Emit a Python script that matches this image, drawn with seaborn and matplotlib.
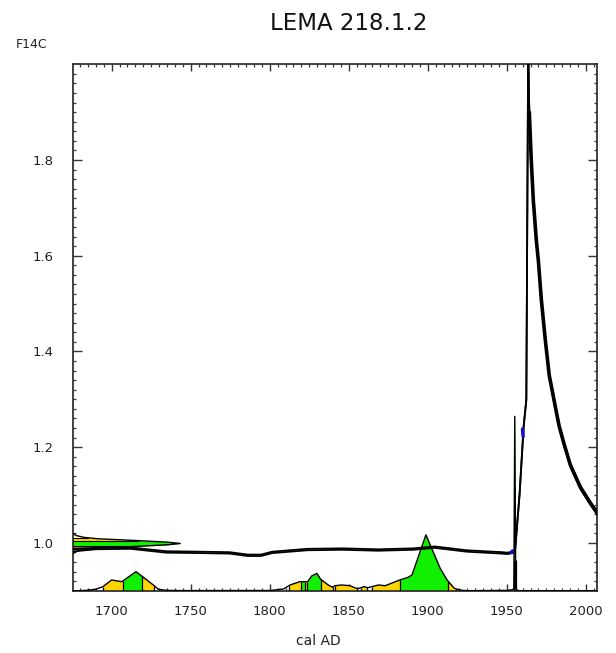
import numpy as np
import pandas as pd
import matplotlib
matplotlib.use("Agg")
import matplotlib.pyplot as plt
import seaborn as sns

# ---------------- data ----------------
title = "LEMA 218.1.2"
x_label = "cal AD"
y_label = "F14C"

# calibration curve (year AD, F14C, 1-sigma)
curve_year = [1675.6, 1689.7, 1712.0, 1734.4, 1756.8, 1774.7, 1786.0, 1794.6, 1801.5,
              1823.7, 1846.0, 1868.6, 1891.0, 1904.4, 1924.6, 1947.0, 1950.2, 1953.5,
              1955.2, 1958.0, 1960.6, 1962.3, 1963.5, 1963.9, 1964.2, 1965.4, 1966.7,
              1968.6, 1969.9, 1971.8, 1974.3, 1976.8, 1980.6, 1983.0, 1985.7, 1990.1,
              1996.5, 2002.8, 2008.5]
curve_f14c = [0.985, 0.988, 0.989, 0.981, 0.980, 0.979, 0.974, 0.974, 0.980,
              0.986, 0.987, 0.985, 0.987, 0.991, 0.983, 0.979, 0.978, 0.980,
              0.985, 1.100, 1.243, 1.299, 2.050, 1.950, 1.900, 1.801, 1.717,
              1.633, 1.590, 1.508, 1.424, 1.350, 1.285, 1.245, 1.212, 1.163,
              1.116, 1.083, 1.056]
curve_sigma = [0.003, 0.0015, 0.0015, 0.0015, 0.0015, 0.0015, 0.0015, 0.0015, 0.0015,
               0.0015, 0.0015, 0.0015, 0.0015, 0.0015, 0.0015, 0.0015, 0.0015, 0.0015,
               0.0015, 0.0015, 0.0015, 0.0015, 0.0015, 0.0015, 0.004, 0.004, 0.004,
               0.004, 0.004, 0.004, 0.004, 0.004, 0.003, 0.003, 0.003, 0.003,
               0.003, 0.003, 0.003]

# measured value distribution on the F14C axis (F14C, extent in years)
meas_f14c = [0.978, 0.982, 0.986, 0.989, 0.9927, 0.996, 0.9987, 1.0014, 1.0047,
             1.0085, 1.0115, 1.0155, 1.019]
meas_extent = [0.5, 2.0, 7.0, 16.0, 41.0, 60.0, 68.0, 60.0, 41.0, 16.0, 7.0, 2.0, 0.5]
meas_1sigma = (0.9927, 1.0047)
meas_2sigma = (0.9867, 1.0107)

# calibrated probability (year AD, relative probability)
prob_year = [1676, 1680, 1685, 1690, 1694.5, 1700, 1706.5, 1715.4, 1719, 1726.4, 1729.6,
             1735, 1745, 1800, 1808.7, 1812.9, 1819, 1824, 1826.6, 1829.8, 1832.3, 1837,
             1839.8, 1841.3, 1845.5, 1850.8, 1854.6, 1857, 1859.5, 1862, 1864.6, 1868.8,
             1873, 1877, 1882.3, 1887.6, 1890, 1898.8, 1907.8, 1912.2, 1916.7, 1921,
             1925, 1950, 1953.5, 1954.4, 1955.0, 1955.6, 1957, 2007]
prob_val = [0.0, 0.0, 0.05, 0.15, 0.4, 1.07, 0.9, 1.9, 1.47, 0.57, 0.14,
            0.03, 0.01, 0.02, 0.17, 0.57, 0.9, 0.9, 1.47, 1.73, 1.13, 0.57,
            0.34, 0.5, 0.57, 0.5, 0.24, 0.25, 0.4, 0.3, 0.4, 0.57,
            0.5, 0.74, 1.07, 1.34, 1.57, 5.57, 2.24, 1.07, 0.24, 0.05,
            0.0, 0.03, 0.1, 0.2, 17.4, 0.2, 0.0, 0.0]
ranges_1sigma = [(1707.0, 1719.0), (1819.7, 1822.4), (1823.9, 1832.3),
                 (1882.3, 1912.7), (1954.5, 1955.5)]
ranges_2sigma = [(1694.5, 1727.0), (1812.0, 1839.8), (1841.3, 1855.0),
                 (1858.0, 1861.5), (1864.6, 1918.0)]

# small blue marks
blue_year = [(1952.8, 1953.6), (1959.9, 1960.3)]
blue_f14c = [(0.980, 0.983), (1.238, 1.222)]

x_ticks = [1700, 1750, 1800, 1850, 1900, 1950, 2000]
y_ticks = [1.0, 1.2, 1.4, 1.6, 1.8]

# ---------------- drawing ----------------
sns.set_theme(style="ticks")
plt.rcParams["font.family"] = ["DejaVu Sans"]

W, H = 616, 653
fig = plt.figure(figsize=(W / 100, H / 100), dpi=100)
ax = fig.add_axes([72.7 / W, 1 - 590.7 / H, (597 - 72.7) / W, (590.7 - 64.3) / H])

xmin, xmax = 1675.4, 2007.0
ymin, ymax = 0.90, 2.00
GREEN = "#10f000"
YELLOW = "#ffd400"

# calibrated probability on the x axis
pscale = 55.7 / 477.5 / 5.57  # F14C units per probability unit
pdf = pd.DataFrame({"year": prob_year, "p": prob_val})
pdf["top"] = ymin + pdf["p"] * pscale
fine_x = np.array(prob_year, dtype=float)
fine_y = pdf["top"].to_numpy()


def fill_range(lo, hi, color):
    xs = [lo] + [x for x in fine_x if lo < x < hi] + [hi]
    ys = np.interp(xs, fine_x, fine_y)
    ax.fill_between(xs, ymin, ys, color=color, lw=0, zorder=2)
    ax.vlines([lo, hi], ymin, np.interp([lo, hi], fine_x, fine_y), color="black",
              lw=0.9, zorder=3)


for lo, hi in ranges_2sigma:
    fill_range(lo, hi, YELLOW)
for lo, hi in ranges_1sigma:
    fill_range(lo, hi, GREEN)
sns.lineplot(data=pdf, x="year", y="top", ax=ax, color="black", lw=1.0, sort=False,
             estimator=None, zorder=4)

# measured value distribution on the y axis
mdf = pd.DataFrame({"f": meas_f14c, "ext": meas_extent})
mdf["x"] = xmin + mdf["ext"]
mf = mdf["f"].to_numpy()
mx = mdf["x"].to_numpy()
for (lo, hi), col in [(meas_2sigma, YELLOW), (meas_1sigma, GREEN)]:
    fs = [lo] + [f for f in mf if lo < f < hi] + [hi]
    ax.fill_betweenx(fs, xmin, np.interp(fs, mf, mx), color=col, lw=0, zorder=2)
    for f in (lo, hi):
        ax.plot([xmin, np.interp(f, mf, mx)], [f, f], color="black", lw=0.8, zorder=3)
sns.lineplot(data=mdf, x="x", y="f", ax=ax, color="black", lw=1.0, sort=False,
             estimator=None, orient="y", zorder=4)

# calibration curve: upper and lower 1-sigma lines
cdf = pd.DataFrame({"year": curve_year, "f": curve_f14c, "s": curve_sigma})
cdf["upper"] = cdf["f"] + cdf["s"]
cdf["lower"] = cdf["f"] - cdf["s"]
for col in ("upper", "lower"):
    sns.lineplot(data=cdf, x="year", y=col, ax=ax, color="black", lw=1.3, sort=False,
                 estimator=None, zorder=5)
post = cdf[cdf["year"] >= 1964.2]
sns.lineplot(data=post, x="year", y="f", ax=ax, color="black", lw=2.6, sort=False,
             estimator=None, zorder=5)

for (x0, x1), (y0, y1) in zip(blue_year, blue_f14c):
    ax.plot([x0, x1], [y0, y1], color="#1010c0", lw=2.5, solid_capstyle="round", zorder=6)

ax.set_xlim(xmin, xmax)
ax.set_ylim(ymin, ymax)
ax.set_xticks(x_ticks)
ax.set_xticks(np.arange(1680, 2006, 5), minor=True)
ax.set_yticks(y_ticks)
ax.set_yticks(np.arange(0.92, 2.0, 0.02), minor=True)
ax.set_xticklabels([str(v) for v in x_ticks])
ax.set_yticklabels([f"{v:.1f}" for v in y_ticks])
ax.tick_params(which="both", direction="in", top=True, right=True, colors="#333333",
               labelcolor="#222222")
ax.tick_params(which="major", width=1.0, labelsize=9.5)
ax.tick_params(axis="x", which="major", length=5.0, pad=10)
ax.tick_params(axis="y", which="major", length=6.5, pad=14)
ax.tick_params(which="minor", length=2.2, width=0.9)
for s in ax.spines.values():
    s.set_color("#333333")
    s.set_linewidth(1.3)
ax.set_xlabel("")
ax.set_ylabel("")

fig.text(349 / W, 1 - 30 / H, title, ha="center", va="baseline", fontsize=16.5,
         color="#111111")
fig.text(16 / W, 1 - 47.5 / H, y_label, ha="left", va="baseline", fontsize=9.0,
         color="#222222")
fig.text(318 / W, 1 - 645 / H, x_label, ha="center", va="baseline", fontsize=10.0,
         color="#222222")

fig.savefig("out.png", dpi=100)
